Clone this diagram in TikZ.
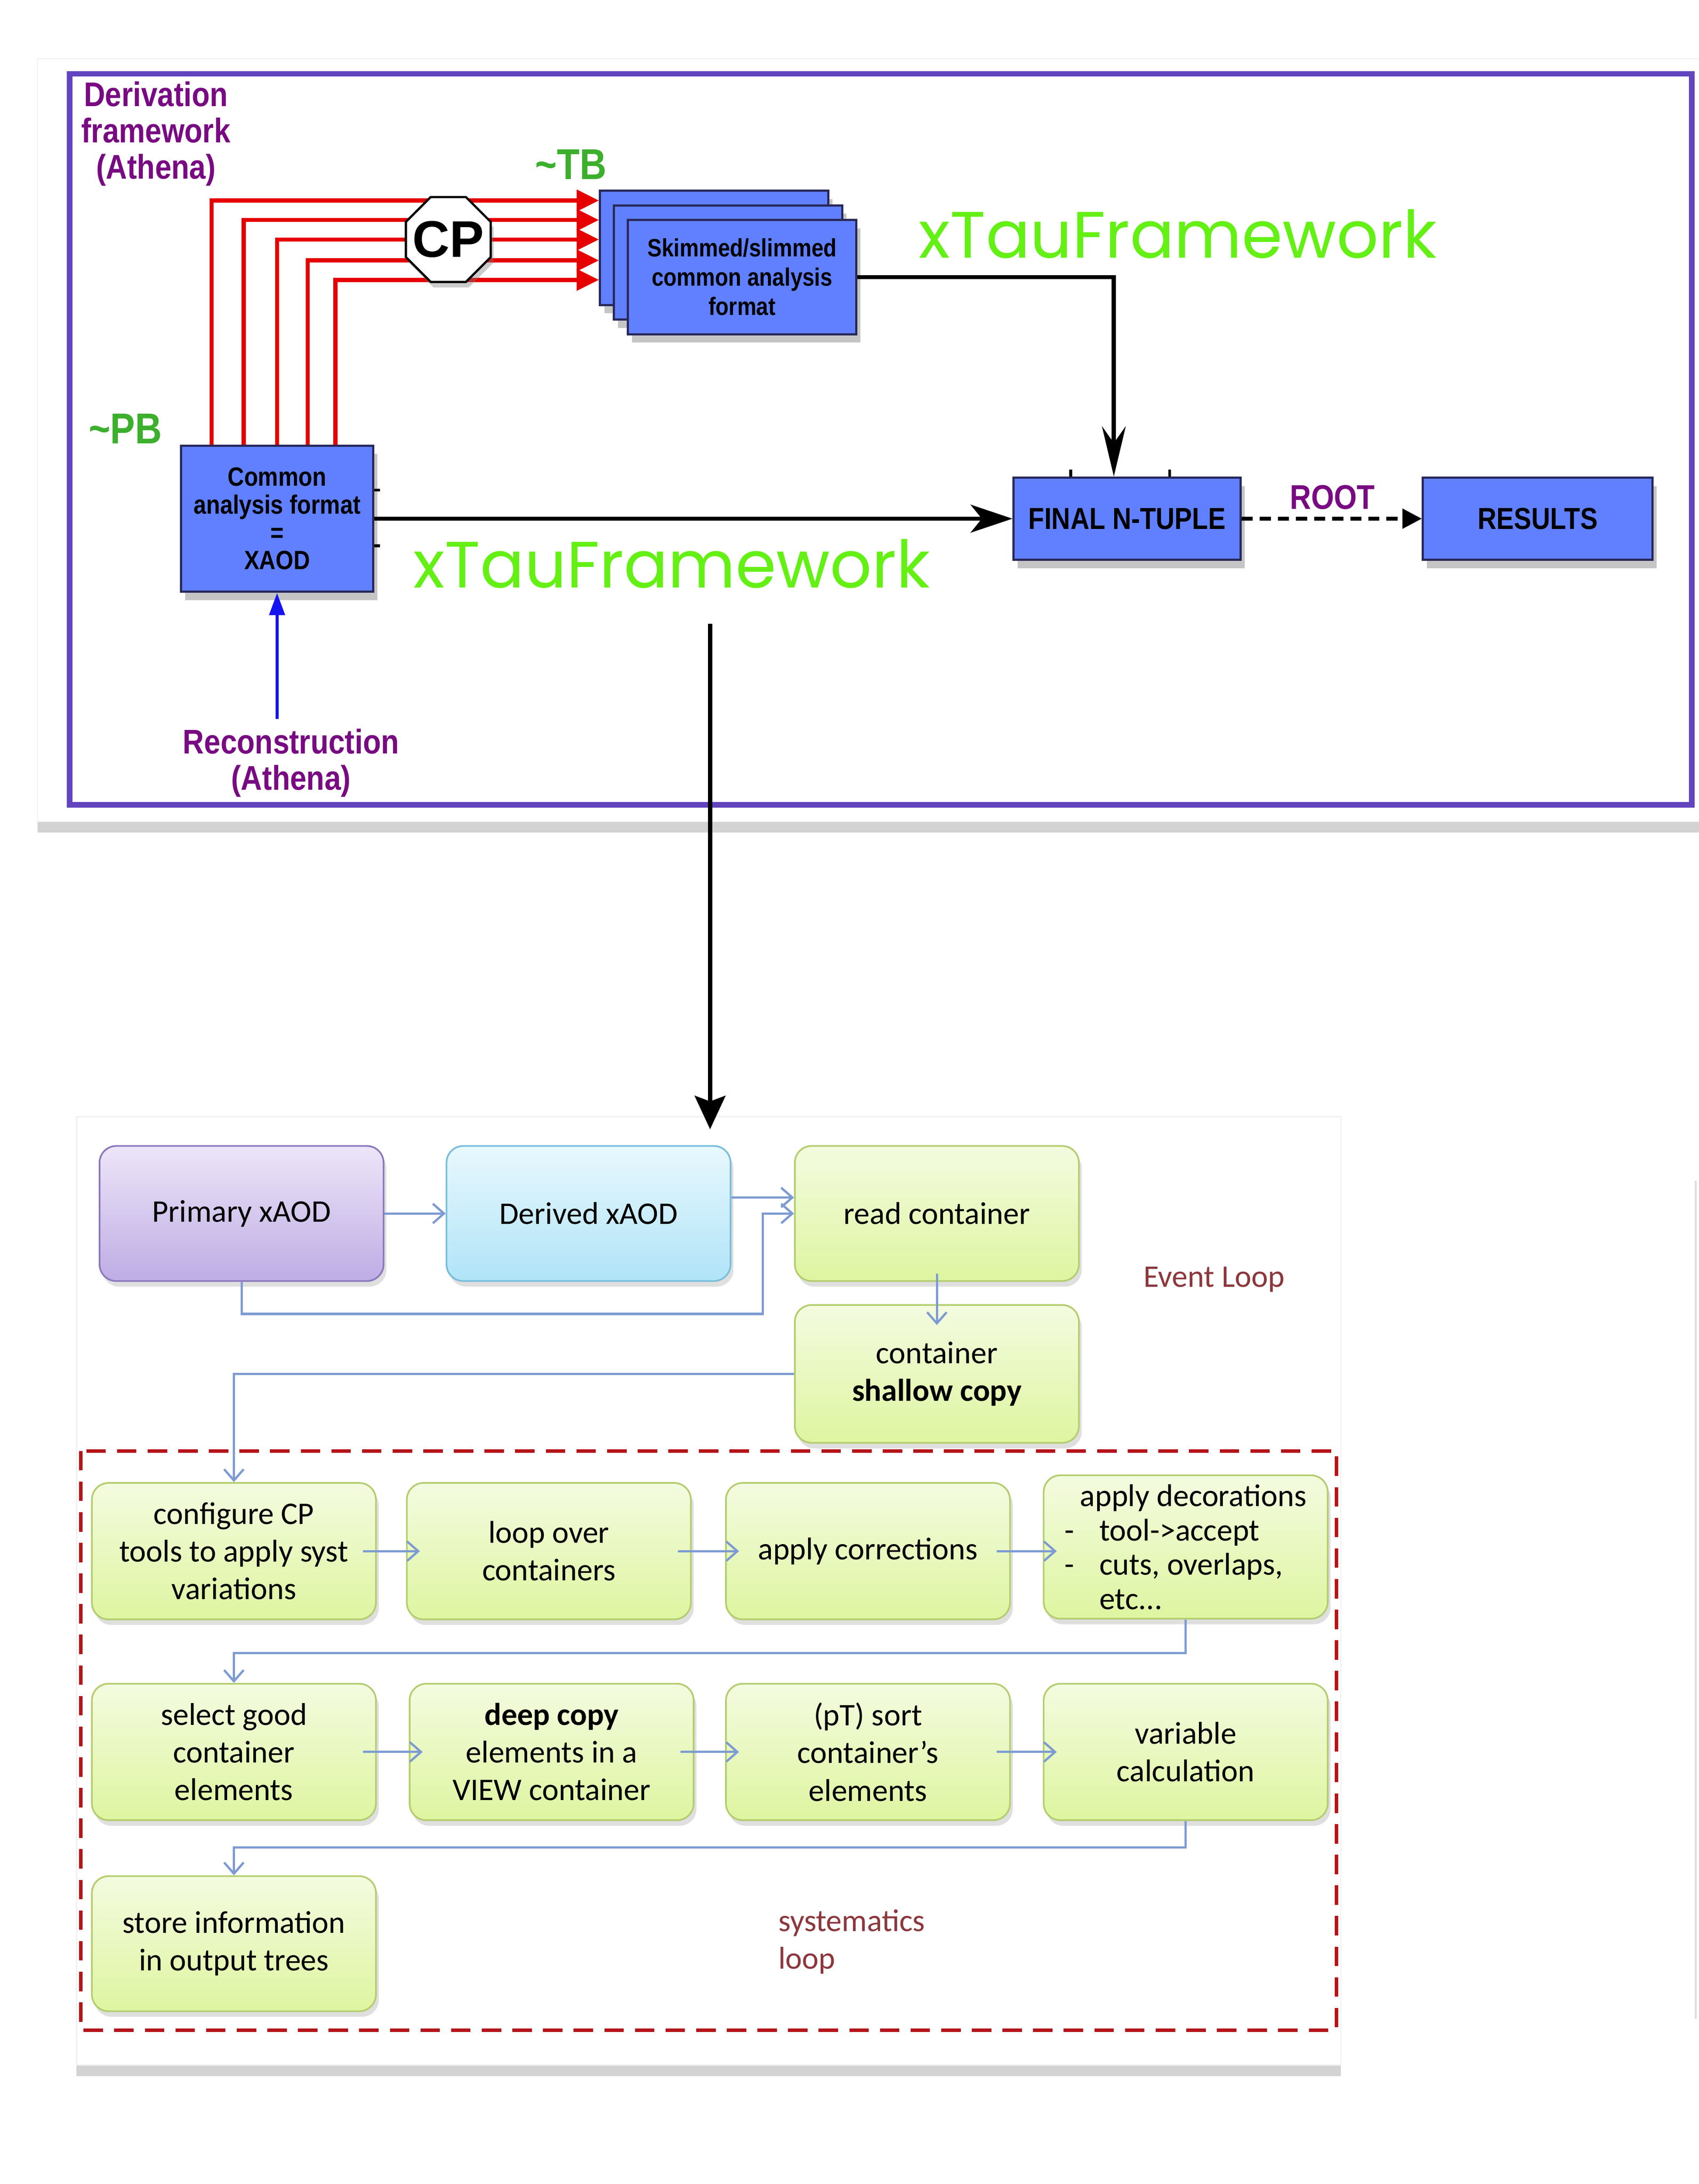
\documentclass[tikz,border=0pt]{standalone}
\usepackage{fontspec}
\setmainfont{Carlito}
\newfontfamily\arialn[FakeStretch=0.86]{Liberation Sans}
\newfontfamily\arialw{Liberation Sans}
\newfontfamily\handfont{Poppins}
\usetikzlibrary{positioning,calc,shapes.geometric,arrows.meta,shadows}
\definecolor{framepurple}{RGB}{98,68,190}
\definecolor{labelpurple}{RGB}{120,10,130}
\definecolor{sizegreen}{RGB}{60,175,45}
\definecolor{tauframe}{RGB}{100,240,20}
\definecolor{boxblue}{RGB}{96,128,255}
\definecolor{boxedge}{RGB}{40,40,90}
\definecolor{cpred}{RGB}{230,0,0}
\definecolor{recoblue}{RGB}{20,20,240}
\definecolor{flowblue}{RGB}{125,155,210}
\definecolor{loopred}{RGB}{180,20,25}
\definecolor{looptext}{RGB}{140,55,60}
\definecolor{greentop}{RGB}{244,251,224}
\definecolor{greenbottom}{RGB}{222,245,160}
\definecolor{greenedge}{RGB}{180,205,110}
\definecolor{purpletop}{RGB}{237,230,248}
\definecolor{purplebottom}{RGB}{190,172,228}
\definecolor{purpleedge}{RGB}{140,120,190}
\definecolor{cyantop}{RGB}{232,248,253}
\definecolor{cyanbottom}{RGB}{176,228,248}
\definecolor{cyanedge}{RGB}{120,190,220}
\newcommand\lowfont{\fontsize{11.3}{13.5}\selectfont}

\begin{document}
\begin{tikzpicture}[x=0.5pt,y=-0.5pt,node distance=11.5pt,
	bluebox/.style={draw=boxedge,line width=0.8pt,fill=boxblue,align=center,inner sep=1pt,
		drop shadow={shadow xshift=1.5pt,shadow yshift=-3pt,opacity=.45}},
	purplelabel/.style={text=labelpurple,align=center,font=\arialn\bfseries\fontsize{12.3}{13}\selectfont},
	greenlabel/.style={text=sizegreen,font=\arialn\bfseries\fontsize{15.5}{16}\selectfont},
	xtau/.style={text=tauframe,font=\handfont,inner sep=0pt},
	redline/.style={draw=cpred,line width=1.5pt,-{Triangle[length=8pt,width=7.5pt]}},
	bigline/.style={draw=black,line width=1.5pt},
	softbox/.style={rounded corners=6pt,line width=0.6pt,minimum width=102pt,minimum height=49pt,
		align=center,font=\lowfont,drop shadow={shadow xshift=1pt,shadow yshift=-2pt,opacity=.25}},
	greenbox/.style={softbox,draw=greenedge,top color=greentop,bottom color=greenbottom},
	flow/.style={draw=flowblue,line width=0.8pt,-{Straight Barb[length=4pt,width=7pt]}},
	inflow/.style={flow,shorten <=-5pt,shorten >=-5pt}]
	\useasboundingbox (0,0) rectangle (1220,1568.5);
	% panels
	\path[fill=white,draw=black!6,drop shadow={shadow xshift=0pt,shadow yshift=-4pt,opacity=.35}] (27,42) rectangle (1226,590);
	\draw[framepurple,line width=2pt] (50,53) rectangle (1215,578);
	\path[fill=white,draw=black!6,drop shadow={shadow xshift=0pt,shadow yshift=-4pt,opacity=.35}] (55,802) rectangle (963,1483);
	\draw[black!12,line width=0.8pt] (1218,848) -- (1218,1450);
	% derivation chain
	\node[bluebox,minimum width=69pt,minimum height=52.5pt,font=\arialn\bfseries\fontsize{9.5}{10}\selectfont] (xaod) at (199,372.5) {Common\\analysis format\\=\\XAOD};
	\node[bluebox,minimum width=82pt,minimum height=41pt] (skimback) at (513,178) {};
	\node[bluebox,minimum width=82pt,minimum height=41pt] (skimmid) at (523,188.5) {};
	\node[bluebox,minimum width=82pt,minimum height=41pt,font=\arialn\bfseries\fontsize{9}{10.5}\selectfont] (skim) at (533,199) {Skimmed/slimmed\\common analysis\\format};
	\node[bluebox,minimum width=81.5pt,minimum height=29.5pt,font=\arialn\bfseries\fontsize{10.9}{12}\selectfont] (ntuple) at (809.5,372.5) {FINAL N-TUPLE};
	\node[bluebox,minimum width=82.5pt,minimum height=29.5pt,font=\arialn\bfseries\fontsize{10.9}{12}\selectfont] (results) at (1104.5,372.5) {RESULTS};
	\node[purplelabel] (deriv) at (112,96) {Derivation\\framework\\(Athena)};
	\node[purplelabel] (recon) at (209,548) {Reconstruction\\(Athena)};
	\node[purplelabel] (root) at (957,357) {ROOT};
	\node[greenlabel] (tb) at (410,118) {\textasciitilde TB};
	\node[greenlabel] (pb) at (90,308) {\textasciitilde PB};
	\foreach \dx/\dy in {-23.5pt/17pt,-12pt/10pt,0pt/3pt,11pt/-4.5pt,21pt/-11.5pt}
		\draw[redline] ([xshift=\dx]xaod.north) |- ([yshift=\dy]skimback.west);
	\node[regular polygon,regular polygon sides=8,minimum size=33pt,inner sep=0pt,draw,line width=0.8pt,fill=white,
		drop shadow={shadow xshift=1pt,shadow yshift=-2pt,opacity=.4}] (cp) at (322,172) {};
	\node[font=\arialw\bfseries\fontsize{18.5}{18.5}\selectfont,inner sep=0pt] (cptext) at (cp) {CP};
	\draw[bigline,-{Stealth[length=18pt,width=8.5pt,inset=6pt]}] (skim.east) -| ([xshift=-4.75pt]ntuple.north);
	\draw[bigline,-{Stealth[length=15pt,width=10pt,inset=4pt]}] (xaod.east) -- (ntuple.west);
	\draw[line width=1.3pt,dash pattern=on 4pt off 2.5pt,-{Triangle[length=7pt,width=7pt]}] (ntuple.east) -- (results.west);
	\draw[recoblue,line width=1.2pt,-{Triangle[length=8pt,width=5.5pt]}] (recon.north -| xaod.south) -- (xaod.south);
	\foreach \dy in {10.25pt,-9.75pt}
		\draw[line width=1pt] ([yshift=\dy]xaod.east) -- ++(4,0);
	\foreach \dx in {-20.25pt,15.25pt}
		\draw[line width=1pt] ([xshift=\dx]ntuple.north) -- ++(0,-5);
	\node[xtau] (xtautop) at (846,168) {\resizebox{186pt}{!}{xTauFramework}};
	\node[xtau] (xtaulow) at (482.5,405) {\resizebox{185.5pt}{!}{xTauFramework}};
	% event loop
	\node[softbox,draw=purpleedge,top color=purpletop,bottom color=purplebottom,minimum height=48.5pt] (primary) at (173.5,871.5) {Primary xAOD};
	\node[softbox,draw=cyanedge,top color=cyantop,bottom color=cyanbottom,minimum height=48.5pt,right=22pt of primary] (derived) {Derived xAOD};
	\node[greenbox,minimum height=48.5pt,right=22.5pt of derived] (read) {read container};
	\node[greenbox,minimum height=49.5pt,below=8pt of read] (shallow) {container\\\textbf{shallow copy}};
	\node[text=looptext,font=\lowfont] (eventloop) at (872,919) {Event Loop};
	% systematics loop
	\draw[loopred,line width=1.25pt,dash pattern=on 7pt off 4pt] (58,1042) rectangle (960,1458);
	\node[greenbox] (config) at (168,1114) {configure CP\\tools to apply syst\\variations};
	\node[greenbox,right=10.5pt of config] (loop) {loop over\\containers};
	\node[greenbox,right=12pt of loop] (corr) {apply corrections};
	\node[greenbox,right=11.5pt of corr,yshift=1.5pt,align=left,font=\fontsize{11.3}{12.3}\selectfont] (decor)
		{\hspace*{5.5pt}apply decorations\\-\hspace{9pt}tool->accept\\-\hspace{9pt}cuts, overlaps,\\\hspace*{12.5pt}etc...};
	\node[greenbox,below=22.5pt of config] (select) {select good\\container\\elements};
	\node[greenbox,right=of select] (deep) {\textbf{deep copy}\\elements in a\\VIEW container};
	\node[greenbox,right=11pt of deep] (sort) {(pT) sort\\container’s\\elements};
	\node[greenbox,right=of sort] (var) {variable\\calculation};
	\node[greenbox,minimum height=48.5pt,below=19.5pt of select] (store) {store information\\in output trees};
	\node[text=looptext,font=\lowfont,align=left,anchor=west] (systloop) at (552,1394.5) {systematics\\loop};
	\draw[flow] (primary.east) -- (derived.west);
	\draw[flow] ([yshift=5.75pt]derived.east) -- ([yshift=5.75pt]read.west);
	\draw[flow] (primary.south) -- ++(0,23) -| ($(derived.east)!0.5!(read.west)$) -- (read.west);
	\draw[flow] ([yshift=3pt]read.south) -- ([yshift=-7.5pt]shallow.north);
	\draw[flow] (shallow.west) -| (config.north);
	\draw[inflow] (config.east) -- (loop.west);
	\draw[inflow] (loop.east) -- (corr.west);
	\draw[inflow] (corr.east) -- (corr.east -| decor.west);
	\draw[flow] (decor.south) -- ++(0,24) -| (select.north);
	\draw[inflow] (select.east) -- (deep.west);
	\draw[inflow] (deep.east) -- (sort.west);
	\draw[inflow] (sort.east) -- (var.west);
	\draw[flow] (var.south) -- ++(0,19) -| (store.north);
	% from the framework to the loop
	\coordinate (dropstart) at (510,448);
	\coordinate (dropend) at (510,811);
	\draw[bigline,-{Stealth[length=12pt,width=11pt,inset=2pt]}] (dropstart) -- (dropend);
\end{tikzpicture}
\end{document}
